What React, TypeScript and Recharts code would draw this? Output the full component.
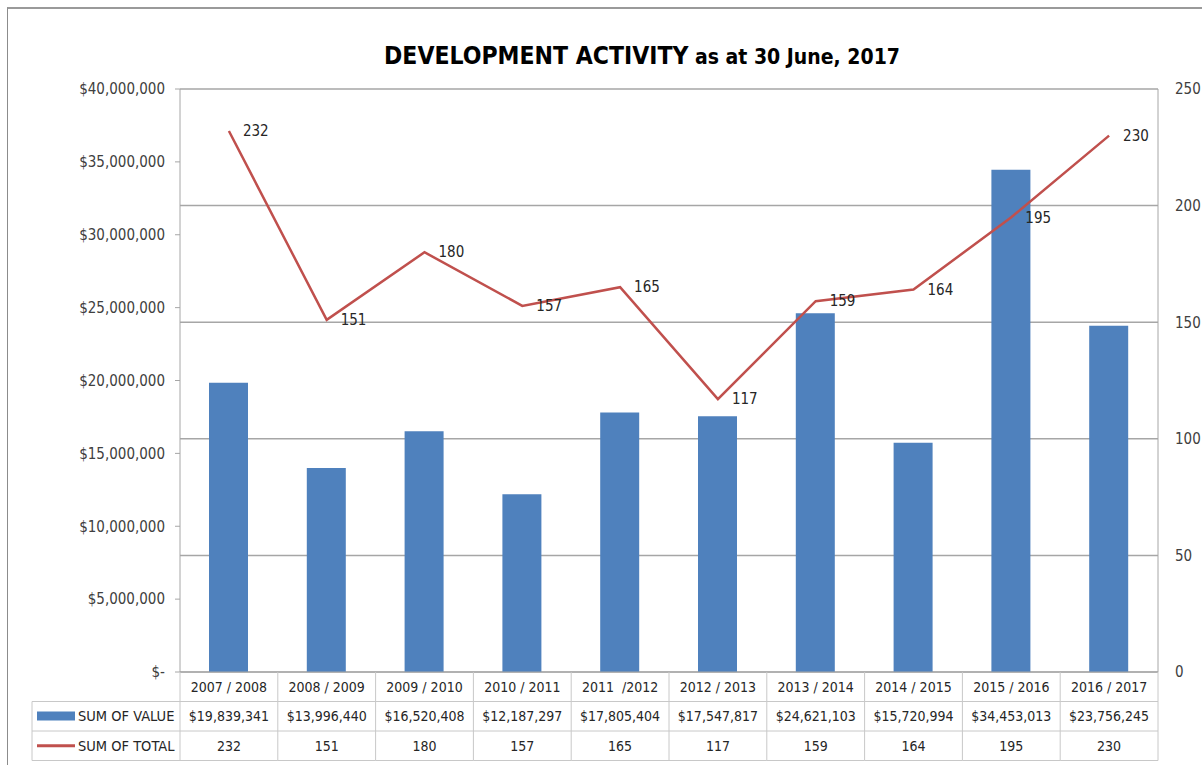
import React from 'react';
import { ComposedChart, Bar, Line, XAxis, YAxis, CartesianGrid, LabelList } from 'recharts';

const categories = ['2007 / 2008', '2008 / 2009', '2009 / 2010', '2010 / 2011', '2011  /2012', '2012 / 2013', '2013 / 2014', '2014 / 2015', '2015 / 2016', '2016 / 2017'];
const sumOfValue = [19839341, 13996440, 16520408, 12187297, 17805404, 17547817, 24621103, 15720994, 34453013, 23756245];
const sumOfTotal = [232, 151, 180, 157, 165, 117, 159, 164, 195, 230];
const leftTicks = [0, 5000000, 10000000, 15000000, 20000000, 25000000, 30000000, 35000000, 40000000];
const rightTicks = [0, 50, 100, 150, 200, 250];
const seriesNames = ['SUM OF VALUE', 'SUM OF TOTAL'];

const data = categories.map((c, i) => ({ cat: c, value: sumOfValue[i], total: sumOfTotal[i] }));

const W = 1202;
const H = 765;
const PLOT_LEFT = 180;
const PLOT_RIGHT = 1158;
const PLOT_TOP = 89;
const PLOT_BOTTOM = 672;
const ROW_H = 29.5;
const LEGEND_LEFT = 32;
const BAND = (PLOT_RIGHT - PLOT_LEFT) / categories.length;

const FONT = "'Liberation Sans Narrow', 'Arial Narrow', 'DejaVu Sans Condensed', sans-serif";
const BLUE = '#4F81BD';
const RED = '#C0504D';
const GRID = '#a6a6a6';
const BORDER = '#c8c8c8';
const TEXT = '#262626';

const fmtMoney = (v: number) => (v === 0 ? '$-' : '$' + v.toLocaleString('en-US'));

const TableTick = (props: any) => {
  const { x, payload, index } = props;
  const top = PLOT_BOTTOM;
  const i = payload.index ?? index;
  const left = x - BAND / 2;
  const right = x + BAND / 2;
  const rows = [categories[i], fmtMoney(sumOfValue[i]), String(sumOfTotal[i])];
  return (
    <g>
      {i === 0 && (
        <g>
          <line x1={LEGEND_LEFT} x2={PLOT_LEFT} y1={top + ROW_H} y2={top + ROW_H} stroke={BORDER} />
          <line x1={LEGEND_LEFT} x2={PLOT_LEFT} y1={top + 2 * ROW_H} y2={top + 2 * ROW_H} stroke={BORDER} />
          <line x1={LEGEND_LEFT} x2={PLOT_LEFT} y1={top + 3 * ROW_H} y2={top + 3 * ROW_H} stroke={BORDER} />
          <line x1={LEGEND_LEFT} x2={LEGEND_LEFT} y1={top + ROW_H} y2={top + 3 * ROW_H} stroke={BORDER} />
          <rect x={37} y={top + ROW_H + 10} width={38} height={9} fill={BLUE} />
          <line x1={37} x2={75} y1={top + 2.5 * ROW_H} y2={top + 2.5 * ROW_H} stroke={RED} strokeWidth={3} />
          <text x={78} y={top + 1.5 * ROW_H} dy="0.35em" fontSize={14.5} fill={TEXT} fontFamily={FONT}>{seriesNames[0]}</text>
          <text x={78} y={top + 2.5 * ROW_H} dy="0.35em" fontSize={14.5} fill={TEXT} fontFamily={FONT}>{seriesNames[1]}</text>
          <line x1={left} x2={left} y1={top} y2={top + 3 * ROW_H} stroke={BORDER} />
        </g>
      )}
      <line x1={right} x2={right} y1={top} y2={top + 3 * ROW_H} stroke={BORDER} />
      <line x1={left} x2={right} y1={top + ROW_H} y2={top + ROW_H} stroke={BORDER} />
      <line x1={left} x2={right} y1={top + 2 * ROW_H} y2={top + 2 * ROW_H} stroke={BORDER} />
      <line x1={left} x2={right} y1={top + 3 * ROW_H} y2={top + 3 * ROW_H} stroke={BORDER} />
      {rows.map((t, r) => (
        <text key={r} x={x} y={top + (r + 0.5) * ROW_H} dy="0.35em" textAnchor="middle" fontSize={14} fill={TEXT} fontFamily={FONT} style={{ whiteSpace: 'pre' }}>
          {t}
        </text>
      ))}
    </g>
  );
};

const LineLabel = (props: any) => {
  const { x, y, value } = props;
  return (
    <text x={x + 14} y={y} dy="0.35em" fontSize={15} fill={TEXT} fontFamily={FONT}>
      {value}
    </text>
  );
};

export default function App() {
  return (
    <div style={{ position: 'absolute', left: 0, top: 0, width: W, height: H, background: '#fff', overflow: 'hidden' }}>
      <div style={{ position: 'absolute', left: 7, top: 7, width: W, height: H, borderLeft: '1.5px solid #8c8c8c', borderTop: '2px solid #9a9a9a', boxSizing: 'border-box' }} />
      <div style={{ position: 'absolute', left: 0, width: 1284, top: 41, textAlign: 'center', fontFamily: FONT, fontWeight: 'bold', color: '#000', whiteSpace: 'nowrap' }}>
        <span style={{ fontSize: 24.5 }}>DEVELOPMENT ACTIVITY</span>
        <span style={{ fontSize: 21 }}> as at 30 June, 2017</span>
      </div>
      <ComposedChart
        width={W}
        height={H}
        data={data}
        margin={{ top: PLOT_TOP, right: 0, bottom: 3, left: 0 }}
        style={{ position: 'absolute', left: 0, top: 0 }}
      >
        <CartesianGrid vertical={false} yAxisId="right" stroke={GRID} strokeWidth={1.5} />
        <XAxis
          dataKey="cat"
          xAxisId={0}
          height={H - 3 - PLOT_BOTTOM}
          tickLine={false}
          tickSize={0}
          tickMargin={0}
          axisLine={{ stroke: GRID }}
          tick={<TableTick />}
          interval={0}
        />
        <YAxis
          yAxisId="left"
          orientation="left"
          width={PLOT_LEFT}
          domain={[0, 40000000]}
          ticks={leftTicks}
          tickFormatter={fmtMoney}
          tickSize={5}
          tickMargin={10}
          tickLine={{ stroke: GRID }}
          axisLine={{ stroke: GRID }}
          tick={{ fontSize: 15, fill: '#404040', fontFamily: FONT }}
          interval={0}
        />
        <YAxis
          yAxisId="right"
          orientation="right"
          width={W - PLOT_RIGHT}
          domain={[0, 250]}
          ticks={rightTicks}
          tickSize={0}
          tickMargin={17}
          tickLine={false}
          axisLine={{ stroke: GRID }}
          tick={{ fontSize: 15, fill: '#404040', fontFamily: FONT, textAnchor: 'start' }}
          interval={0}
        />
        <Bar yAxisId="left" dataKey="value" fill={BLUE} barSize={39} isAnimationActive={false} />
        <Line yAxisId="right" dataKey="total" stroke={RED} strokeWidth={2.5} dot={false} isAnimationActive={false}>
          <LabelList dataKey="total" content={<LineLabel />} />
        </Line>
      </ComposedChart>
    </div>
  );
}
